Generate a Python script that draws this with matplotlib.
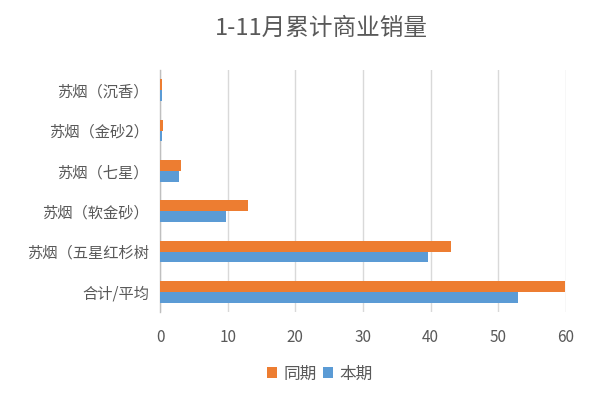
import matplotlib
matplotlib.use("Agg")
import matplotlib.pyplot as plt
import numpy as np

plt.rcParams['font.family'] = ['Noto Sans CJK SC', 'DejaVu Sans']

categories = ["合计/平均", "苏烟（五星红杉树", "苏烟（软金砂）", "苏烟（七星）", "苏烟（金砂2）", "苏烟（沉香）"]
prior = [59.9, 43.0, 13.0, 3.05, 0.4, 0.3]     # 同期
current = [52.9, 39.6, 9.75, 2.8, 0.3, 0.3]    # 本期
xticks = [0, 10, 20, 30, 40, 50, 60]

orange = "#ED7D31"
blue = "#5B9BD5"
txt = "#595959"

fig = plt.figure(figsize=(6, 4), dpi=100)
ax = fig.add_axes([0.2667, 0.22, 0.6766, 0.605])

y = np.arange(len(categories))
h = 0.265
ax.barh(y + h / 2, prior, height=h, color=orange, label="同期", zorder=3)
ax.barh(y - h / 2, current, height=h, color=blue, label="本期", zorder=3)

ax.set_ylim(-0.5, len(categories) - 0.5)
ax.set_xlim(0, 60)
ax.set_xticks(xticks)
ax.set_xticklabels([str(t) for t in xticks], fontsize=11, color=txt)
ax.set_yticks(y)
ax.set_yticklabels(categories, fontsize=11, color=txt)
ax.tick_params(axis='y', length=0, pad=8)
ax.tick_params(axis='x', length=0, pad=12)
ax.grid(axis='x', color="#D9D9D9", linewidth=1, zorder=0)
for s in ['top', 'right', 'bottom']:
    ax.spines[s].set_visible(False)
ax.spines['left'].set_color("#BFBFBF")
ax.spines['left'].set_linewidth(1)

fig.text(0.535, 0.928, "1-11月累计商业销量", ha='center', va='center', fontsize=17, color=txt)

fig.legend(loc='center', bbox_to_anchor=(0.533, 0.065), ncol=2, frameon=False,
           fontsize=12, labelcolor=txt, handlelength=0.6, handleheight=0.6,
           handletextpad=0.35, columnspacing=0.4)

fig.savefig("out.png", dpi=100, facecolor="white")
